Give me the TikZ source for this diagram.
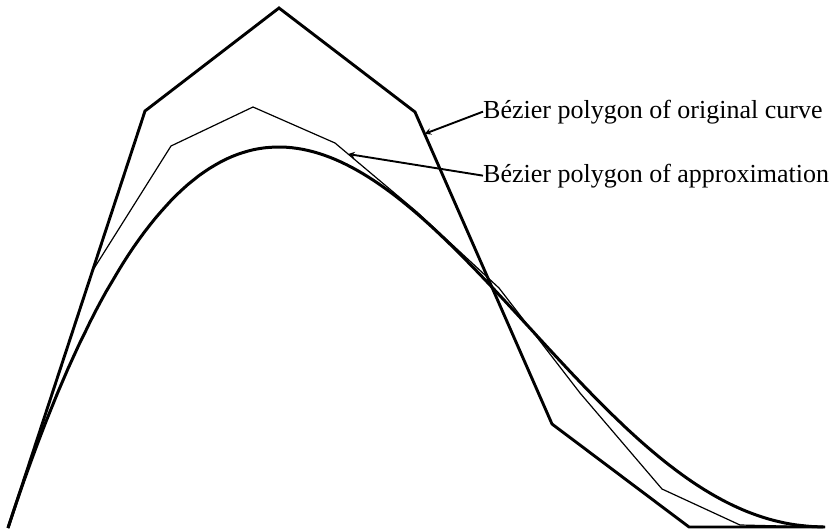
\documentclass[tikz,border=0pt]{standalone}
\usepackage{fontspec}
\setmainfont{Liberation Serif}
\usepackage{tikz}
\usetikzlibrary{calc, positioning, arrows}
\tikzstyle{poly}=[line width=2.9pt, line join=miter]
\tikzstyle{approx}=[line width=1.2pt]
\tikzstyle{curve}=[line width=3pt]
\tikzstyle{lbl}=[inner sep=0pt, anchor=base west, font=\fontsize{26}{30}\selectfont]
\tikzset{>=stealth}

\begin{document}
\begin{tikzpicture}[x=1pt, y=-1pt,
  declare function={
    bx(\t)=(1-\t)^6*8 + 6*\t*(1-\t)^5*145 + 15*\t^2*(1-\t)^4*279 + 20*\t^3*(1-\t)^3*415
           + 15*\t^4*(1-\t)^2*552 + 6*\t^5*(1-\t)*690 + \t^6*825;
    by(\t)=(1-\t)^6*528 + 6*\t*(1-\t)^5*111 + 15*\t^2*(1-\t)^4*8 + 20*\t^3*(1-\t)^3*112
           + 15*\t^4*(1-\t)^2*424 + 6*\t^5*(1-\t)*527 + \t^6*527;
  }]
\useasboundingbox (0,0) rectangle (832,532);
% the polygon of the original curve
\coordinate (O0) at (8,528);
\coordinate (O1) at (145,111);
\coordinate (O2) at (279,8);
\coordinate (O3) at (415,112);
\coordinate (O4) at (552,424);
\coordinate (O5) at (689,527);
\coordinate (O6) at (825,527);
% the polygon of the approximation
\coordinate (A0) at (8,528);
\coordinate (A1) at (93,270);
\coordinate (A2) at (171,146);
\coordinate (A3) at (253,107);
\coordinate (A4) at (335,143);
\coordinate (A5) at (417,212);
\coordinate (A6) at (499,288);
\coordinate (A7) at (580,393);
\coordinate (A8) at (662,489);
\coordinate (A9) at (740,525);
\coordinate (A10) at (825,527);
% the polygons
\draw[poly] (O0) -- (O1) -- (O2) -- (O3) -- (O4) -- (O5) -- (O6);
\draw[approx] (A0) -- (A1) -- (A2) -- (A3) -- (A4) -- (A5) -- (A6) -- (A7) -- (A8) -- (A9) -- (A10);
% the curve
\draw[curve] plot[domain=0:1, samples=150, variable=\t] ({bx(\t)}, {by(\t)});
% the labels
\node[lbl] (orig) at (483,118) {Bézier polygon of original curve};
\node[lbl] (appr) at (483,182) {Bézier polygon of approximation};
\draw[->, line width=1.9pt] (orig.west) -- ($(O3)!0.07!(O4)$);
\draw[->, line width=1.9pt] (appr.west) -- ($(A4)!0.16!(A5)$);
\end{tikzpicture}
\end{document}
